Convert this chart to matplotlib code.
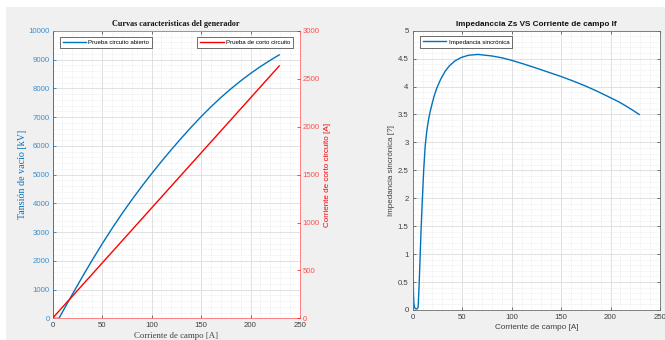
import matplotlib
matplotlib.use("Agg")
import matplotlib.pyplot as plt
from matplotlib.ticker import MultipleLocator, FuncFormatter
from matplotlib.patches import Rectangle

# ---------------- data ----------------
if_oc = [0, 6.5, 10, 20, 30, 40, 50, 60, 70, 80, 90, 100, 110, 120, 130, 140, 150,
         160, 170, 180, 190, 200, 210, 220, 229]
v_oc = [0, 0, 217, 832, 1434, 2019, 2582, 3119, 3632, 4119, 4584, 5029, 5457, 5869, 6267,
        6649, 7014, 7359, 7682, 7982, 8262, 8522, 8762, 8982, 9170]

if_sc = [0, 229]
i_sc = [0, 2635]

if_zs = [0.3, 0.5, 0.8, 1.2, 2, 3, 4.5, 5.5, 6.5, 7.5, 8.5, 9.8, 11.1, 12.6, 14.2, 15.9,
         17.5, 19.3, 21.5, 24.3, 28, 32.7, 37, 42.8, 49, 56.3, 66, 80, 90, 100, 112, 125,
         137, 150, 162, 175, 187, 200, 208, 215, 222, 229]
zs = [1.0, 0.6, 0.3, 0.12, 0.04, 0.02, 0.02, 0.05, 0.45, 0.95, 1.45, 2.0, 2.5, 2.93, 3.2,
      3.4, 3.54, 3.67, 3.82, 3.97, 4.12, 4.27, 4.37, 4.46, 4.52, 4.56, 4.575, 4.548, 4.515,
      4.47, 4.405, 4.33, 4.258, 4.18, 4.1, 4.008, 3.912, 3.80, 3.73, 3.658, 3.582, 3.50]

left_title = "Curvas caracteristicas del generador"
right_title = "Impedanccia Zs VS Corriente de campo If"
xlabel = "Corriente de campo [A]"
ylabel_v = "Tansión de vacío [kV]"
ylabel_i = "Corriente de corto circuito [A]"
ylabel_z = "Impedancia sincrónica [?]"
leg_oc = "Prueba circuito abierto"
leg_sc = "Prueba de corto circuito"
leg_zs = "Impedancia sincrónica"

# ---------------- style ----------------
BLUE = "#0072BD"
RED = "#FF0000"
GRAY = "#404040"
BG = "#F0F0F0"
SANS = ["Liberation Sans", "DejaVu Sans"]
SERIF = ["Liberation Serif", "DejaVu Serif"]
TFS = 5.6

plt.rcParams["font.family"] = SANS

fig = plt.figure(figsize=(6.65, 3.4), dpi=100, facecolor="white")
fig.patches.append(Rectangle((6 / 665, 0), 1, 1 - 7 / 340, transform=fig.transFigure,
                             facecolor=BG, edgecolor="none", zorder=-10))

LEG_KW = dict(fontsize=4.4, frameon=True, fancybox=False, edgecolor="#333333", framealpha=1,
              handlelength=3.8, borderpad=0.5, handletextpad=0.35, borderaxespad=0)


def style_grid(ax):
    ax.grid(True, which="major", color="#dcdcdc", lw=0.6, ls="-")
    ax.grid(True, which="minor", color="#e2e2e2", lw=0.5, ls=(0, (1, 1.5)))
    ax.set_axisbelow(True)


# ---------------- left chart ----------------
ax = fig.add_axes([52.5 / 665, 1 - 318.3 / 340, 247.5 / 665, (318.3 - 31) / 340])
ax.set_facecolor("white")
ax.plot(if_oc, v_oc, color=BLUE, lw=1.0, label=leg_oc)
ax.set_xlim(0, 250)
ax.set_ylim(0, 10000)
ax.xaxis.set_major_locator(MultipleLocator(50))
ax.xaxis.set_minor_locator(MultipleLocator(10))
ax.yaxis.set_major_locator(MultipleLocator(1000))
ax.yaxis.set_minor_locator(MultipleLocator(200))
style_grid(ax)
ax.tick_params(axis="x", which="both", direction="in", top=True, colors=GRAY, labelsize=TFS,
               length=2.5, width=0.5, pad=3)
ax.tick_params(axis="x", which="minor", length=0)
ax.tick_params(axis="y", which="major", direction="in", right=True, colors=BLUE, labelsize=TFS,
               length=2.5, width=0.5, pad=2, labelcolor="#3a8fcf")
ax.tick_params(axis="y", which="minor", length=0)
ax.spines["top"].set_color("#8c8c8c")
ax.spines["left"].set_color(BLUE)
ax.spines["bottom"].set_color("#ff7070")
ax.spines["right"].set_color("#ff7070")
for s in ax.spines.values():
    s.set_linewidth(0.6)
ax.set_title(left_title, family=SERIF, fontweight="bold", fontsize=5.9, pad=3.5, color="#111111")
ax.set_xlabel(xlabel, family=SERIF, fontsize=6.3, color=GRAY, labelpad=1.5)
ax.set_ylabel(ylabel_v, family=SERIF, fontsize=7.2, color=BLUE, labelpad=1)
leg1 = ax.legend(loc="upper left", bbox_to_anchor=(0.03, 0.98), **LEG_KW)
leg1.get_frame().set_linewidth(0.5)

ax2 = ax.twinx()
ax2.plot(if_sc, i_sc, color=RED, lw=1.0, label=leg_sc)
ax2.set_ylim(0, 3000)
ax2.yaxis.set_major_locator(MultipleLocator(500))
ax2.tick_params(axis="y", which="major", direction="in", colors=RED, labelsize=TFS,
                length=2.5, width=0.5, pad=2, labelcolor="#ff5050")
for s in ax2.spines.values():
    s.set_visible(False)
ax2.set_ylabel(ylabel_i, fontsize=5.8, color=RED, labelpad=3)
leg2 = ax2.legend(loc="upper right", bbox_to_anchor=(0.972, 0.98), **LEG_KW)
leg2.get_frame().set_linewidth(0.5)

# ---------------- right chart ----------------
az = fig.add_axes([412.7 / 665, 1 - 310 / 340, 247.3 / 665, (310 - 30.7) / 340])
az.set_facecolor("white")
az.plot(if_zs, zs, color=BLUE, lw=1.0, label=leg_zs)
az.set_xlim(0, 250)
az.set_ylim(0, 5)
az.xaxis.set_major_locator(MultipleLocator(50))
az.xaxis.set_minor_locator(MultipleLocator(10))
az.yaxis.set_major_locator(MultipleLocator(0.5))
az.yaxis.set_minor_locator(MultipleLocator(0.1))
az.yaxis.set_major_formatter(FuncFormatter(lambda v, p: f"{v:g}"))
style_grid(az)
az.tick_params(axis="both", which="major", direction="in", top=True, right=True, colors=GRAY,
               labelsize=TFS, length=2.5, width=0.5, pad=3)
az.tick_params(axis="both", which="minor", length=0)
for s in az.spines.values():
    s.set_color("#6e6e6e")
    s.set_linewidth(0.6)
az.set_title(right_title, fontweight="bold", fontsize=5.9, pad=3.5, color="#111111")
az.set_xlabel(xlabel, fontsize=5.9, color=GRAY, labelpad=2)
az.set_ylabel(ylabel_z, fontsize=5.8, color=GRAY, labelpad=2)
leg3 = az.legend(loc="upper left", bbox_to_anchor=(0.03, 0.98), **LEG_KW)
leg3.get_frame().set_linewidth(0.5)

fig.savefig("out.png", dpi=100, facecolor=fig.get_facecolor())
